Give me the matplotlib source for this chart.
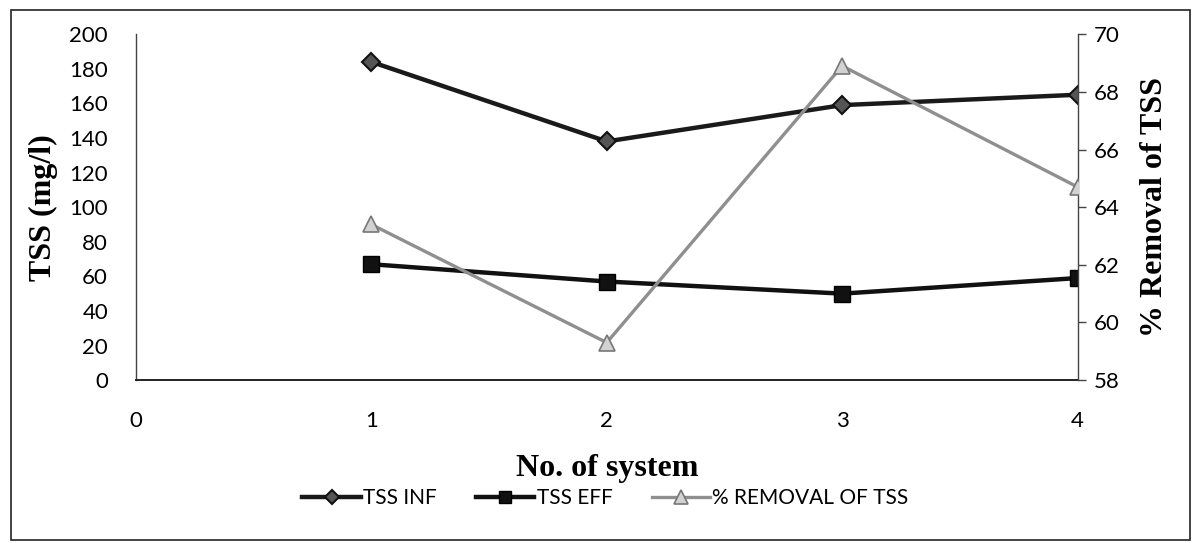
import matplotlib
matplotlib.use("Agg")
import matplotlib.pyplot as plt
from matplotlib.patches import Rectangle

# values
systems = [1, 2, 3, 4]
tss_inf = [184, 138, 159, 165]
tss_eff = [67, 57, 50, 59]
removal = [63.4, 59.3, 68.9, 64.7]
left_ticks = list(range(0, 201, 20))
right_ticks = list(range(58, 71, 2))
x_ticks = [0, 1, 2, 3, 4]

tick_font = "Lato"
label_font = "Liberation Serif"

fig = plt.figure(figsize=(11.92, 5.43), dpi=100)
ax = fig.add_axes([0.114, 0.300, 0.790, 0.637])
ax2 = ax.twinx()

l1, = ax.plot(systems, tss_inf, color="#1a1a1a", lw=3.2, marker="D", ms=9,
              mfc="#555555", mec="#111111", mew=1.5, zorder=3)
l2, = ax.plot(systems, tss_eff, color="#111111", lw=3.2, marker="s", ms=11,
              mfc="#111111", mec="#000000", zorder=3)
l3, = ax2.plot(systems, removal, color="#8f8f8f", lw=2.4, marker="^", ms=12,
               mfc="#d2d2d2", mec="#777777", mew=1.2, zorder=3)

ax.set_xlim(0, 4)
ax.set_ylim(0, 200)
ax2.set_ylim(58, 70)
ax.set_xticks(x_ticks)
ax.set_yticks(left_ticks)
ax2.set_yticks(right_ticks)

for a in (ax, ax2):
    for s in a.spines.values():
        s.set_visible(False)
ax.spines["left"].set_visible(True)
ax.spines["bottom"].set_visible(True)
ax2.spines["right"].set_visible(True)
ax.spines["left"].set_color("#444444")
ax.spines["left"].set_linewidth(1.0)
ax.spines["bottom"].set_color("#222222")
ax.spines["bottom"].set_linewidth(1.4)
ax2.spines["right"].set_color("#444444")
ax2.spines["right"].set_linewidth(1.0)

ax.tick_params(axis="y", length=0, pad=20, labelsize=16)
ax.tick_params(axis="x", length=0, pad=22, labelsize=16)
ax2.tick_params(axis="y", length=6, width=1, color="#444444", pad=6, labelsize=16)
for lab in ax.get_xticklabels() + ax.get_yticklabels() + ax2.get_yticklabels():
    lab.set_fontfamily(tick_font)

ax.set_xlabel("No. of system", fontfamily=label_font, fontweight="bold",
              fontsize=23, labelpad=17)
ax.set_ylabel("TSS (mg/l)", fontfamily=label_font, fontweight="bold",
              fontsize=23, labelpad=8)
ax2.set_ylabel("% Removal of TSS", fontfamily=label_font, fontweight="bold",
               fontsize=23, labelpad=14)

fig.legend([l1, l2, l3], ["TSS INF", "TSS EFF", "% REMOVAL OF TSS"],
           loc="center", bbox_to_anchor=(0.508, 0.083), ncol=3, frameon=False,
           prop={"family": tick_font, "size": 15}, handlelength=2.8,
           handletextpad=0.1, columnspacing=1.9, markerscale=0.8)

# outer frame
fig.patches.append(Rectangle((0.009, 0.006), 0.989, 0.976, transform=fig.transFigure,
                             fill=False, edgecolor="#222222", lw=1.2))

fig.savefig("out.png", dpi=100, facecolor="white")
